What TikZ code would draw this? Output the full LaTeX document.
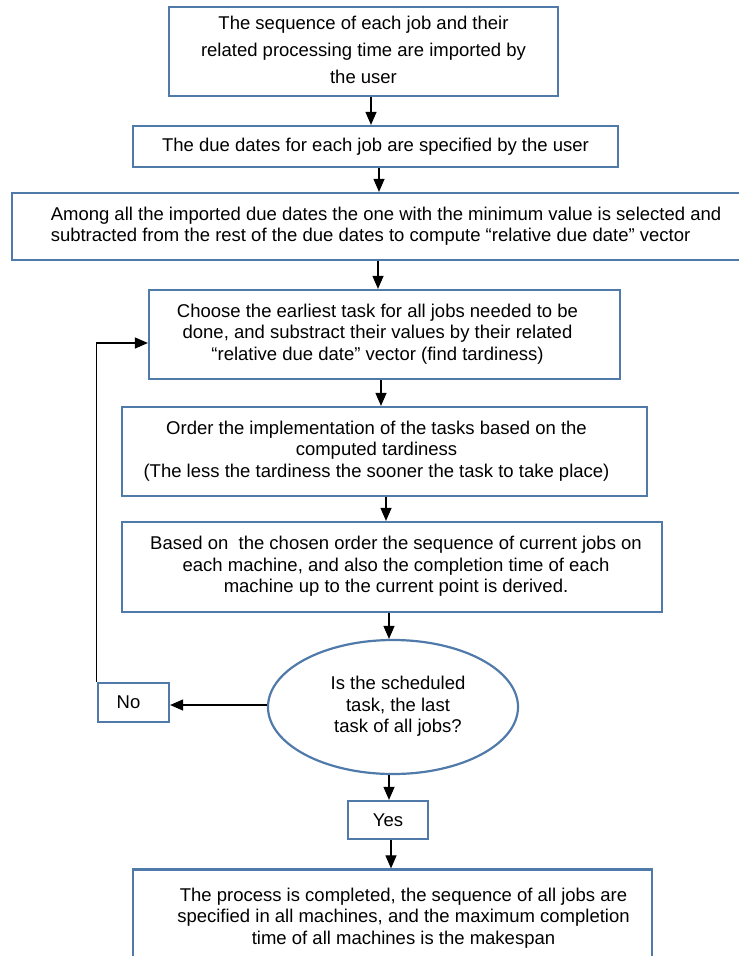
\documentclass[tikz,border=0pt]{standalone}
\usepackage{fontspec}
\setmainfont{Liberation Sans}
\usetikzlibrary{arrows.meta,shapes.geometric,calc}
\definecolor{boxblue}{RGB}{79,122,170}
\newcommand{\ctx}[1]{\begin{tabular}{@{}c@{}}#1\end{tabular}}
\newcommand{\ltx}[1]{\begin{tabular}{@{}l@{}}#1\end{tabular}}
\begin{document}
\begin{tikzpicture}[x=1pt,y=-1pt,
  box/.style={draw=boxblue,line width=2.2pt,rectangle,inner sep=0pt,
    font=\fontsize{18.5}{21.5}\selectfont},
  oval/.style={draw=boxblue,line width=2.2pt,ellipse,inner sep=0pt,
    font=\fontsize{18.5}{21.5}\selectfont},
  arr/.style={draw=black,line width=1.1pt,-{Triangle[length=13pt,width=11pt]}}]
\useasboundingbox (0,0) rectangle (739,956);
\node[box,minimum width=389,minimum height=89] (b1) at (363.5,51.5)
  {\renewcommand\arraystretch{1.256}\ctx{The sequence of each job and their\\ related processing time are imported by\\ the user}};
\node[box,minimum width=485,minimum height=41] (b2) at (375.5,146.5)
  {The due dates for each job are specified by the user};
\node[box,minimum width=734,minimum height=67] (b3) at (379,226.5)
  {\hspace*{14pt}\ltx{Among all the imported due dates the one with the minimum value is selected and\\ subtracted from the rest of the due dates to compute “relative due date” vector}};
\node[box,minimum width=471,minimum height=89] (b4) at (384.5,334.5)
  {\ctx{Choose the earliest task for all jobs needed to be\\ done, and substract their values by their related\\ “relative due date” vector (find tardiness)}\hspace*{14pt}};
\node[box,minimum width=525,minimum height=89] (b5) at (384.5,451.5)
  {\ctx{Order the implementation of the tasks based on the\\ computed tardiness\\ (The less the tardiness the sooner the task to take place)}\hspace*{16pt}};
\node[box,minimum width=540,minimum height=90] (b6) at (392,567)
  {\hspace*{8pt}\ctx{Based on\ \ the chosen order the sequence of current jobs on\\ each machine, and also the completion time of each\\ machine up to the current point is derived.}};
\node[oval,minimum width=250,minimum height=134] (el) at (393,707)
  {\hspace*{10pt}\ctx{Is the scheduled\\ task, the last\\ task of all jobs?}};
\node[box,minimum width=71,minimum height=39] (no) at (133.5,702.5)
  {No\hspace*{10pt}};
\node[box,minimum width=80,minimum height=38] (yes) at (388,820) {Yes};
\node[box,minimum width=519,minimum height=98] (fin) at (392.5,918.5)
  {\hspace*{22pt}\ctx{The process is completed, the sequence of all jobs are\\ specified in all machines, and the maximum completion\\ time of all machines is the makespan}};
\draw[arr] ([xshift=7.5pt]b1.south) -- ([xshift=7.5pt]b1.south |- b2.north);
\draw[arr] ([xshift=3.5pt]b2.south) -- ([xshift=3.5pt]b2.south |- b3.north);
\draw[arr] ([xshift=-1pt]b3.south) -- ([xshift=-1pt]b3.south |- b4.north);
\draw[arr] ([xshift=-3.5pt]b4.south) -- ([xshift=-3.5pt]b4.south |- b5.north);
\draw[arr] ([xshift=1.5pt]b5.south) -- ([xshift=1.5pt]b5.south |- b6.north);
\draw[arr] ([xshift=-3pt]b6.south) -- ([xshift=-3pt]b6.south |- el.north);
\draw[arr] ([xshift=-4pt]el.south) -- ([xshift=-4pt]el.south |- yes.north);
\draw[arr] ([xshift=3pt]yes.south) -- ([xshift=3pt]yes.south |- fin.north);
\draw[arr] ([yshift=2pt]el.west) -- ([yshift=2pt]el.west -| no.east);
\coordinate (fb) at ([yshift=-8.5pt]b4.west);
\draw[arr] (no.north west) -- (no.north west |- fb) -- (fb);
\end{tikzpicture}
\end{document}
